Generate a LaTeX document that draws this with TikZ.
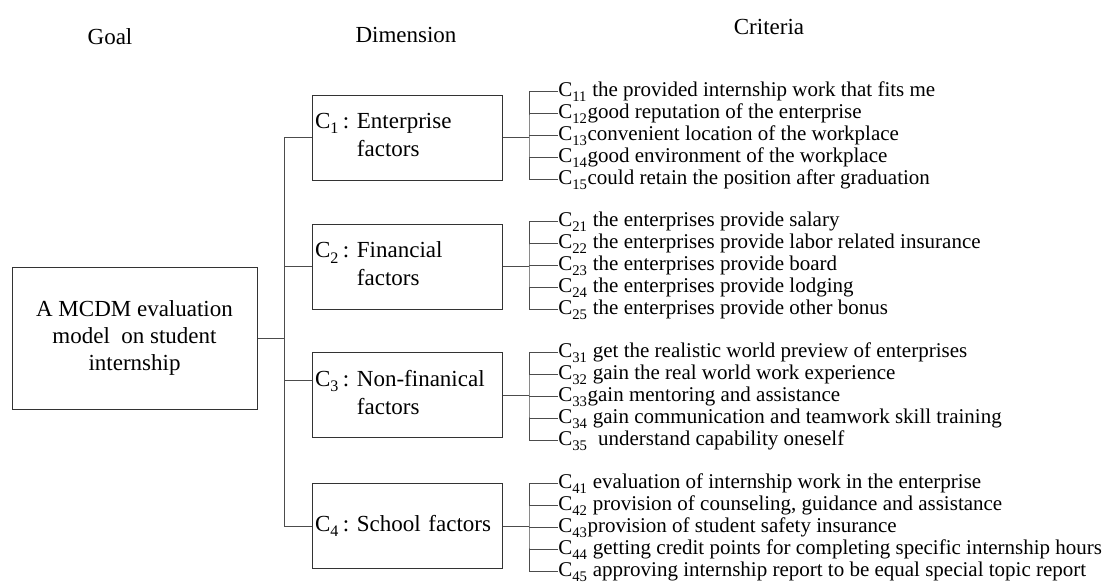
\documentclass[tikz,border=0pt]{standalone}
\usepackage{fontspec}
\setmainfont{Liberation Serif}
\usetikzlibrary{positioning}
\newcommand{\Csub}[1]{C\raisebox{-0.2ex}{\textsubscript{#1}}}

\begin{document}
\begin{tikzpicture}[x=0.75pt,y=-0.75pt,
  head/.style={font=\fontsize{17.25}{20}\selectfont,inner sep=0pt},
  goalbox/.style={draw=black!80,line width=0.75pt,minimum width=183.75pt,
    minimum height=106.5pt,align=center,font=\fontsize{17.25}{20.25}\selectfont},
  dimbox/.style={draw=black!80,line width=0.75pt,minimum width=142.5pt,
    minimum height=63.75pt,inner sep=2pt,text width=138pt,align=left,
    font=\fontsize{17.25}{21}\selectfont},
  crit/.style={anchor=west,inner sep=0pt,font=\fontsize{15.75}{18}\selectfont,
    text height=11pt,text depth=3pt},
  link/.style={draw=black!70,line width=0.75pt}]
  \useasboundingbox (0,0) rectangle (1107,583);
  % Headers
  \node[head] (hgoal) at (110,37) {Goal};
  \node[head] (hdim) at (406,35) {Dimension};
  \node[head] (hcrit) at (769,27) {Criteria};
  % Goal
  \node[goalbox] (goal) at (134.5,338)
    {A MCDM evaluation\\model\ \ on student\\internship};
  % Dimensions
  \node[dimbox] (d1) at (407,137.5)
    {\Csub{1}\,:\ Enterprise\\\phantom{\Csub{1}\,:\ }factors};
  \node[dimbox] (d2) at (407,266.5)
    {\Csub{2}\,:\ Financial\\\phantom{\Csub{2}\,:\ }factors};
  \node[dimbox] (d3) at (407,395)
    {\Csub{3}\,:\ Non-finanical\\\phantom{\Csub{3}\,:\ }factors};
  \node[dimbox] (d4) at (407,526)
    {\Csub{4}\,:\ School factors};
  % Criteria of C1
  \node[crit] (c11) at (558,91) {\Csub{11} the provided internship work that fits me};
  \node[crit] (c12) at (558,113) {\Csub{12}good reputation of the enterprise};
  \node[crit] (c13) at (558,135) {\Csub{13}convenient location of the workplace};
  \node[crit] (c14) at (558,157) {\Csub{14}good environment of the workplace};
  \node[crit] (c15) at (558,179) {\Csub{15}could retain the position after graduation};
  % Criteria of C2
  \node[crit] (c21) at (558,221) {\Csub{21} the enterprises provide salary};
  \node[crit] (c22) at (558,243) {\Csub{22} the enterprises provide labor related insurance};
  \node[crit] (c23) at (558,265) {\Csub{23} the enterprises provide board};
  \node[crit] (c24) at (558,287) {\Csub{24} the enterprises provide lodging};
  \node[crit] (c25) at (558,309) {\Csub{25} the enterprises provide other bonus};
  % Criteria of C3
  \node[crit] (c31) at (558,352) {\Csub{31} get the realistic world preview of enterprises};
  \node[crit] (c32) at (558,374) {\Csub{32} gain the real world work experience};
  \node[crit] (c33) at (558,396) {\Csub{33}gain mentoring and assistance};
  \node[crit] (c34) at (558,418) {\Csub{34} gain communication and teamwork skill training};
  \node[crit] (c35) at (558,440) {\Csub{35}\ \ understand capability oneself};
  % Criteria of C4
  \node[crit] (c41) at (558,483) {\Csub{41} evaluation of internship work in the enterprise};
  \node[crit] (c42) at (558,505) {\Csub{42} provision of counseling, guidance and assistance};
  \node[crit] (c43) at (558,527) {\Csub{43}provision of student safety insurance};
  \node[crit] (c44) at (558,549) {\Csub{44} getting credit points for completing specific internship hours};
  \node[crit] (c45) at (558,571) {\Csub{45} approving internship report to be equal special topic report};
  % Goal to dimensions
  \coordinate (trunk) at (284,0);
  \coordinate (brk) at (529,0);
  \coordinate (d3in) at ([yshift=11.25pt]d3.west);
  \draw[link] (goal.east) -- (goal.east -| trunk);
  \draw[link] (trunk |- d1.west) -- (trunk |- d4.west);
  \foreach \g in {1,2,4} \draw[link] (trunk |- d\g.west) -- (d\g.west);
  \draw[link] (trunk |- d3in) -- (d3in);
  % Dimensions to criteria
  \foreach \g in {1,...,4} {
    \draw[link] (d\g.east) -- (d\g.east -| brk);
    \draw[link] (c\g1.west) -| (brk |- d\g.east) |- (c\g5.west);
    \foreach \i in {2,3,4} \draw[link] (brk |- c\g\i.west) -- (c\g\i.west);
  }
\end{tikzpicture}
\end{document}
